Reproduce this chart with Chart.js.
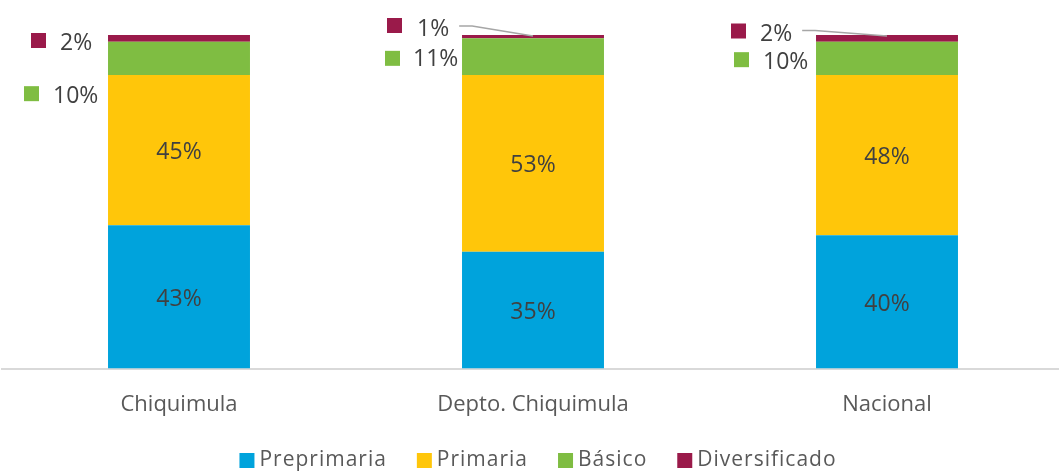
<!DOCTYPE html>
<html>
<head>
<meta charset="utf-8">
<script src="https://cdn.jsdelivr.net/npm/chart.js@4"></script>
<style>
html,body{margin:0;padding:0;background:#fff;overflow:hidden;}
#wrap{width:1064px;height:471px;position:relative;}
</style>
</head>
<body>
<div id="wrap"><canvas id="c"></canvas></div>
<script>
const categories = ['Chiquimula', 'Depto. Chiquimula', 'Nacional'];
const preprimaria = [43, 35, 40];
const primaria = [45, 53, 48];
const basico = [10, 11, 10];
const diversificado = [2, 1, 2];
const seriesNames = ['Preprimaria', 'Primaria', 'Básico', 'Diversificado'];
const seriesColors = ['#00A3DC', '#FFC60A', '#7FBD42', '#9A1A4A'];

const FONT = '"Open Sans", "Liberation Sans", Arial, sans-serif';

// offsets for outside labels (relative to top-center of the segment)
const outside = {
  2: [ {sq:[-147.5, 52], tx:[-126, 54.5]}, {sq:[-140.5, 20], tx:[-120, 21.5]}, {sq:[-145.5, 18], tx:[-124, 21]} ],
  3: [ {sq:[-140.5, 5.5], tx:[-119, 8.5]}, {sq:[-138.5, -9.5], tx:[-116, -5.5], line:true}, {sq:[-148.5, -4], tx:[-127, -1], line:true} ]
};

const labelPlugin = {
  id: 'labels',
  afterDatasetsDraw(chart) {
    const ctx = chart.ctx;
    ctx.save();
    ctx.font = '23px ' + FONT;
    ctx.fillStyle = '#404040';
    ctx.textBaseline = 'middle';
    chart.data.datasets.forEach((ds, di) => {
      const meta = chart.getDatasetMeta(di);
      meta.data.forEach((el, i) => {
        const v = ds.data[i];
        const txt = v + '%';
        if (di < 2) {
          ctx.textAlign = 'center';
          ctx.fillStyle = '#404040';
          ctx.fillText(txt, el.x, (el.y + el.base) / 2 + 2.5);
        } else {
          const o = outside[di][i];
          const sx = el.x + o.sq[0], sy = el.y + o.sq[1];
          ctx.fillStyle = seriesColors[di];
          ctx.fillRect(sx - 7.5, sy - 7.5, 15, 15);
          ctx.fillStyle = '#404040';
          ctx.textAlign = 'left';
          const tx = el.x + o.tx[0], ty = el.y + o.tx[1];
          ctx.fillText(txt, tx, ty);
          if (o.line) {
            const w = ctx.measureText(txt).width;
            ctx.strokeStyle = '#A6A6A6';
            ctx.lineWidth = 1.5;
            ctx.beginPath();
            ctx.moveTo(tx + w + 10, ty - 3.5);
            ctx.lineTo(tx + w + 23, ty - 3.5);
            ctx.lineTo(el.x, el.y + 1);
            ctx.stroke();
          }
        }
      });
    });
    ctx.restore();
  },
  afterDraw(chart) {
    // legend
    const ctx = chart.ctx;
    ctx.save();
    ctx.font = '21px ' + FONT;
    ctx.letterSpacing = '1px';
    ctx.textBaseline = 'middle';
    ctx.textAlign = 'left';
    const box = 15, gapText = 5, gapItem = 31;
    const widths = seriesNames.map(n => ctx.measureText(n).width - 1);
    let total = 0;
    widths.forEach((w, i) => { total += box + gapText + w + (i < widths.length - 1 ? gapItem : 0); });
    let x = 537.5 - total / 2;
    const cy = 460.5;
    seriesNames.forEach((n, i) => {
      ctx.fillStyle = seriesColors[i];
      ctx.fillRect(x, cy - box / 2, box, box);
      ctx.fillStyle = '#595959';
      ctx.fillText(n, x + box + gapText, cy);
      x += box + gapText + widths[i] + gapItem;
    });
    ctx.restore();
  }
};

const datasets = [preprimaria, primaria, basico, diversificado].map((d, i) => ({
  label: seriesNames[i],
  data: d,
  backgroundColor: seriesColors[i],
  borderWidth: 0,
  categoryPercentage: 1.0,
  barPercentage: 0.401
}));

new Chart(document.getElementById('c'), {
  type: 'bar',
  data: { labels: categories, datasets },
  options: {
    responsive: true,
    maintainAspectRatio: false,
    animation: false,
    layout: { padding: { top: 35, left: 2, right: 0, bottom: 30 } },
    plugins: {
      legend: { display: false },
      tooltip: { enabled: false }
    },
    scales: {
      x: {
        stacked: true,
        grid: { display: false, drawTicks: false },
        border: { display: true, color: '#D9D9D9', width: 2 },
        ticks: { font: { family: FONT, size: 22 }, color: '#595959', padding: 23 }
      },
      y: {
        stacked: true,
        display: false,
        min: 0,
        max: 100
      }
    }
  },
  plugins: [labelPlugin]
});
</script>
</body>
</html>
